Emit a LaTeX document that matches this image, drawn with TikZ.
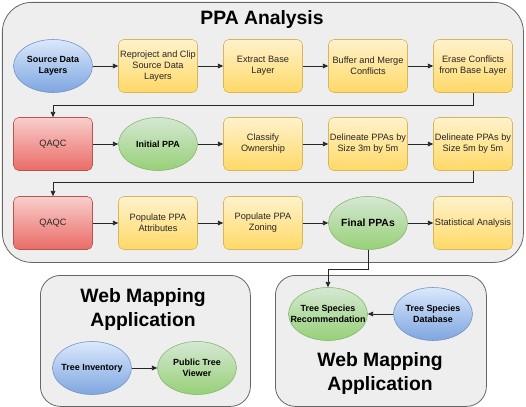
\documentclass[tikz,border=0pt]{standalone}
\usepackage{fontspec}
\setmainfont{Liberation Sans}
\usetikzlibrary{arrows.meta,positioning,shapes.geometric}

\definecolor{panelfill}{HTML}{EEEEEE}
\definecolor{panelline}{HTML}{666666}
\definecolor{proctop}{HTML}{FFF2CC}
\definecolor{procbot}{HTML}{FFD966}
\definecolor{procline}{HTML}{D6B656}
\definecolor{chktop}{HTML}{F8CECC}
\definecolor{chkbot}{HTML}{EA6B66}
\definecolor{chkline}{HTML}{B85450}
\definecolor{datatop}{HTML}{DAE8FC}
\definecolor{databot}{HTML}{7EA6E0}
\definecolor{dataline}{HTML}{6C8EBF}
\definecolor{restop}{HTML}{D5E8D4}
\definecolor{resbot}{HTML}{97D077}
\definecolor{resline}{HTML}{82B366}

\begin{document}
\begin{tikzpicture}[
        x=0.75pt, y=-0.75pt,
        node distance=78.75pt,
        panel/.style={draw=panelline, fill=panelfill, anchor=north west, inner sep=0pt, line width=0.6pt},
        process/.style={draw=procline, top color=proctop, bottom color=procbot, rounded corners=4pt, minimum width=59.25pt, minimum height=39.75pt, inner sep=1pt, align=center, text=black!85, font=\fontsize{6.9}{8.4}\selectfont},
        check/.style={process, draw=chkline, top color=chktop, bottom color=chkbot},
        data/.style={ellipse, draw=dataline, top color=datatop, bottom color=databot, minimum width=59.25pt, minimum height=39.75pt, inner xsep=-10pt, inner ysep=0pt, align=center, font=\bfseries\fontsize{6.7}{8.4}\selectfont},
        result/.style={data, draw=resline, top color=restop, bottom color=resbot},
        title/.style={align=center, font=\bfseries\fontsize{14.5}{18}\selectfont},
        flow/.style={-{Triangle[length=4pt,width=3.5pt]}, draw=black!85, line width=0.6pt}
    ]
        \useasboundingbox (0,0) rectangle (526,407);

        % Panels
        \node[panel, rounded corners=22pt, minimum width=390.75pt, minimum height=195pt] (ppabox) at (2,2) {};
        \node[panel, rounded corners=15pt, minimum width=157.5pt, minimum height=98.25pt] (webleft) at (40,275) {};
        \node[panel, rounded corners=15pt, minimum width=158.25pt, minimum height=98.25pt] (webright) at (275,275) {};
        \node[title] (ppatitle) at (262,20) {PPA Analysis};
        \node[title] (lefttitle) at (143,310) {Web Mapping\\Application};
        \node[title] (righttitle) at (380,374) {Web Mapping\\Application};

        % Row 1
        \node[data] (src) at (53,66) {Source Data\\Layers};
        \node[process, right of=src] (rep) {Reproject and Clip\\Source Data\\Layers};
        \node[process, right of=rep] (ext) {Extract Base\\Layer};
        \node[process, right of=ext] (buf) {Buffer and Merge\\Conflicts};
        \node[process, right of=buf] (era) {Erase Conflicts\\from Base Layer};

        % Row 2
        \node[check] (qa1) at (53,144) {QAQC};
        \node[result, right of=qa1] (ini) {Initial PPA};
        \node[process, right of=ini] (own) {Classify\\Ownership};
        \node[process, right of=own] (dl1) {Delineate PPAs by\\Size 3m by 5m};
        \node[process, right of=dl1] (dl2) {Delineate PPAs by\\Size 5m by 5m};

        % Row 3
        \node[check] (qa2) at (53,223) {QAQC};
        \node[process, right of=qa2] (att) {Populate PPA\\Attributes};
        \node[process, right of=att] (zon) {Populate PPA\\Zoning};
        \node[result, right of=zon, font=\bfseries\fontsize{7.8}{9}\selectfont] (fin) {Final PPAs};
        \node[process, right of=fin] (sta) {Statistical Analysis};

        % Web mapping
        \node[data] (inv) at (92,368) {Tree Inventory};
        \node[result, right of=inv] (view) {Public Tree\\Viewer};
        \node[result] (rec) at (328,314) {Tree Species\\Recommendation};
        \node[data, right of=rec] (db) {Tree Species\\Database};

        % Flow
        \draw[flow] (src) -- (rep);
        \draw[flow] (rep) -- (ext);
        \draw[flow] (ext) -- (buf);
        \draw[flow] (buf) -- (era);
        \draw[flow] (era.south) -- ++(0,13) -| (qa1.north);
        \draw[flow] (qa1) -- (ini);
        \draw[flow] (ini) -- (own);
        \draw[flow] (own) -- (dl1);
        \draw[flow] (dl1) -- (dl2);
        \draw[flow] (dl2.south) -- ++(0,12) -| (qa2.north);
        \draw[flow] (qa2) -- (att);
        \draw[flow] (att) -- (zon);
        \draw[flow] (zon) -- (fin);
        \draw[flow] (fin) -- (sta);
        \draw[flow] (fin.south) -- ++(0,20) -| (rec.north);
        \draw[flow] (db) -- (rec);
        \draw[flow] (inv) -- (view);
    \end{tikzpicture}
\end{document}
